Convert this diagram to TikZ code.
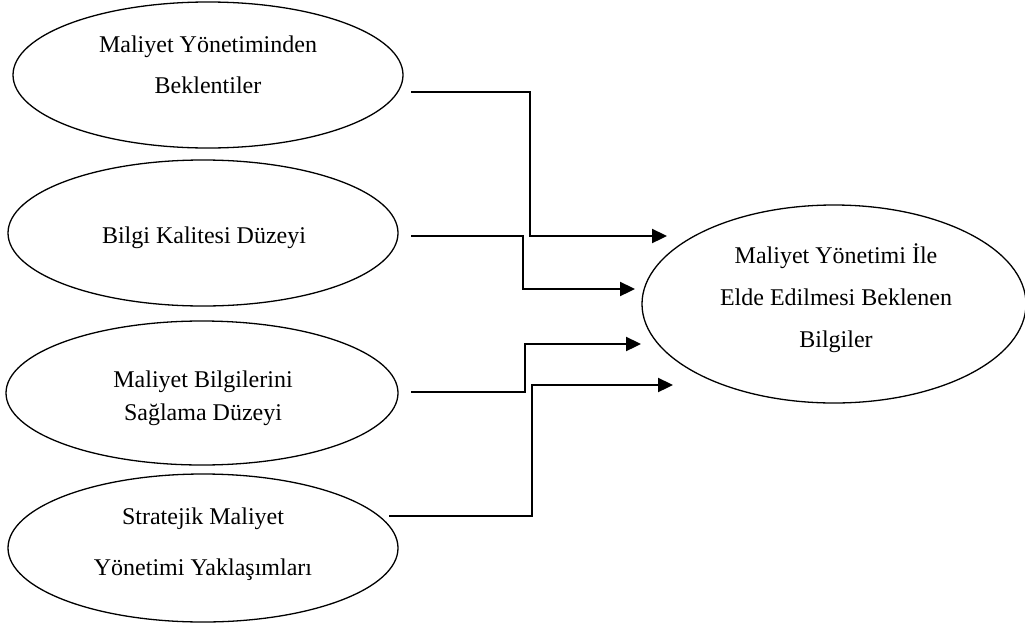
\documentclass[tikz,border=0pt]{standalone}
\usepackage{fontspec}
\setmainfont{Liberation Serif}
\usetikzlibrary{shapes.geometric,arrows.meta}
\begin{document}
\begin{tikzpicture}[x=1pt,y=-1pt,
  ell/.style={draw=black,line width=1.3pt,ellipse,inner sep=0pt,fill=none},
  txt/.style={anchor=base,inner sep=0pt,font=\fontsize{24}{28}\selectfont},
  conn/.style={line width=2.3pt,-{Triangle[length=15pt,width=14pt]}}]
\useasboundingbox (0,0) rectangle (1025,627);
% left ellipses
\node[ell,minimum width=390pt,minimum height=146pt] (e1) at (208,75) {};
\node[ell,minimum width=390pt,minimum height=146pt] (e2) at (203,233) {};
\node[ell,minimum width=392pt,minimum height=144pt] (e3) at (202,393) {};
\node[ell,minimum width=390pt,minimum height=148pt] (e4) at (203,548) {};
% right ellipse
\node[ell,minimum width=384pt,minimum height=198pt] (r) at (834,304) {};
% texts
\node[txt] (t1a) at (208,52) {Maliyet Yönetiminden};
\node[txt] (t1b) at (208,93) {Beklentiler};
\node[txt] (t2) at (204,243) {Bilgi Kalitesi Düzeyi};
\node[txt] (t3a) at (203,387) {Maliyet Bilgilerini};
\node[txt] (t3b) at (203,420) {Sağlama Düzeyi};
\node[txt] (t4a) at (203,524) {Stratejik Maliyet};
\node[txt] (t4b) at (203,575) {Yönetimi Yaklaşımları};
\node[txt] (ra) at (836,263) {Maliyet Yönetimi İle};
\node[txt] (rb) at (836,305) {Elde Edilmesi Beklenen};
\node[txt] (rc) at (836,347) {Bilgiler};
% connector ends
\coordinate (s1) at (411,92);  \coordinate (a1) at (667,236);
\coordinate (s2) at (411,236); \coordinate (a2) at (635,289);
\coordinate (s3) at (411,392); \coordinate (a3) at (641,344);
\coordinate (s4) at (389,516); \coordinate (a4) at (673,385);
% connectors
\draw[conn] (s1) -- (530,92) -- (530,236) -- (a1);
\draw[conn] (s2) -- (523,236) -- (523,289) -- (a2);
\draw[conn] (s3) -- (525,392) -- (525,344) -- (a3);
\draw[conn] (s4) -- (532,516) -- (532,385) -- (a4);
\end{tikzpicture}
\end{document}
